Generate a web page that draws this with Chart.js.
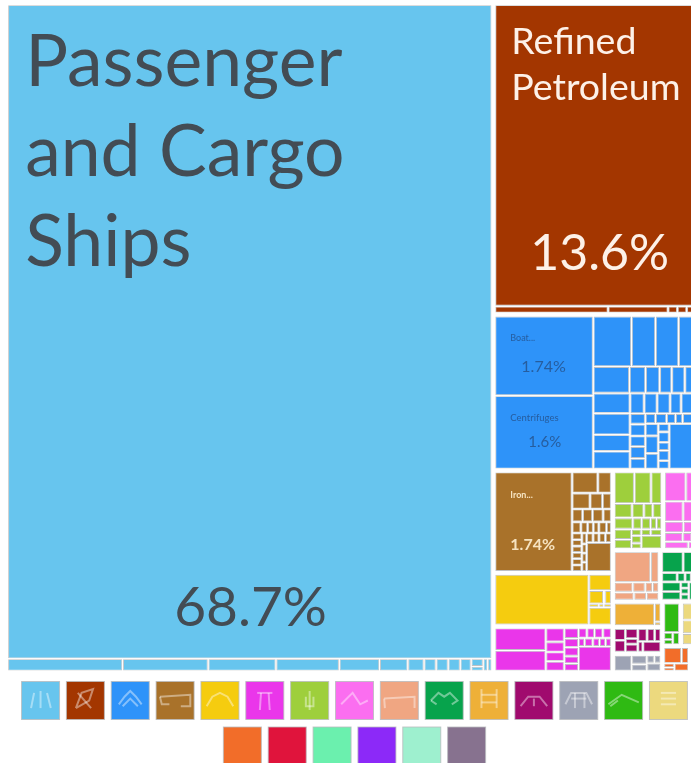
<!DOCTYPE html>
<html>
<head>
<meta charset="utf-8">
<title>Exports treemap</title>
<script src="https://cdn.jsdelivr.net/npm/chart.js@4/dist/chart.umd.js"></script>
<style>
html, body { margin: 0; background: #fff; overflow: hidden; }
canvas { display: block; }
</style>
</head>
<body>
<canvas id="exportsChart" width="711" height="763"></canvas>
<script>
// ============================
// DATA (share of exports, %)
// nested lists alternate between side by side and stacked
// ============================
const shipsValues = [68.7, [.305, .227, .18, .168, .107, .075, .043, .032, .032, .032, .029, [.02, .012], .012, .011]];
const petroleumValues = [13.6, [.17, .09, .014, .014, .02]];
const machineryValues = [
    [1.74, 1.6],
    [
        [.43, .27, .26, .24],
        [.213, .095, .083, .071, .077, .089],
        [
            [.165, .175, .135, .145],
            [
                [.064, .059, .059, .05, .086],
                [
                    [.036, .04, .036, .04, .036],
                    [
                        [.023, .025, .02, .016, .039],
                        [[.035, .05, .045], [.02, .025, .02, .025, .02], .31]
                    ]
                ]
            ]
        ]
    ]
];
const metalsValues = [1.74, [
    [.123, .064],
    [.065, .045, .032],
    [.031, .029, .031, .024],
    [.022, .017, .014, .014, .019, .012],
    [[.015, .014, .014, .014, .014, .014], [.012, .01, .01, .01], [[.014, .013, .014, .013], .16]]
]];
const mineralsValues = [1.11, [.085, [.045, .004, .02], [.008, .004, .006], .092]];
const textilesValues = [
    [.27, .247],
    [.06, .044, .04, .042],
    [.035, .03, .03, .025, .025],
    [[.02, .018, .02, .02], [.012, .016, .013, .012, .011], .19]
];
const vegetableValues = [
    [.15, .125, .08],
    [.06, .04, .03, .03],
    [.05, .024, .024, .016, .014],
    [[.042, .038], [.015, .017, .013], [[.014, .016], .065]]
];
const chemicalValues = [
    [.15, .1],
    [.09, .083],
    [.05, .045],
    [.04, .02, .018],
    [.04, .02]
];
const foodValues = [
    [.27, .06],
    [.045, .03, .018, .015],
    [.038, .024, .024]
];
const transportValues = [
    [.11, .087],
    [.035, .018, .014, .02],
    [[.045, .04], [.012, .012, .012], .05]
];
const plasticsValues = [.235, [.03, .006]];
const animalValues = [
    [.033, .034],
    [.032, .018, .026],
    [[.03, .025, .02], [.014, .05]]
];
const stoneValues = [.075, [.037, .028], [[.016, .014], .03]];
const instrumentsValues = [.125, [[.017, .013], .022]];
const paperValues = [.08, .065, .052];
const miscValues = [[.075, .03], [[.012, .01], .03]];
const leatherValues = [.03];
const furnitureValues = [.022];
const arsValues = [.006];
const weaponsValues = [.004];
const otherValues = [.003];

// name -> values, color, first split runs across or down
const groups = {
    ships: { values: shipsValues, color: '#67c5ee', across: false },
    petroleum: { values: petroleumValues, color: '#a33600', across: false },
    machinery: { values: machineryValues, color: '#2e93f9', across: true },
    metals: { values: metalsValues, color: '#a9722a', across: true },
    minerals: { values: mineralsValues, color: '#f5cc0f', across: true },
    textiles: { values: textilesValues, color: '#ea36ea', across: true },
    vegetable: { values: vegetableValues, color: '#9ecf3c', across: false },
    chemical: { values: chemicalValues, color: '#fb6ef0', across: false },
    food: { values: foodValues, color: '#f0a682', across: false },
    transport: { values: transportValues, color: '#07a34c', across: false },
    plastics: { values: plasticsValues, color: '#eeb038', across: true },
    animal: { values: animalValues, color: '#a00a6e', across: true },
    stone: { values: stoneValues, color: '#9da3b4', across: true },
    instruments: { values: instrumentsValues, color: '#2fba13', across: false },
    paper: { values: paperValues, color: '#ecd97e', across: false },
    misc: { values: miscValues, color: '#f26d29', across: false },
    leather: { values: leatherValues, color: '#e0143c', across: true },
    furniture: { values: furnitureValues, color: '#6bf0ae', across: true },
    ars: { values: arsValues, color: '#8c29f8', across: true },
    weapons: { values: weaponsValues, color: '#9ef0cf', across: true },
    other: { values: otherValues, color: '#87728f', across: true }
};

// group names placed side by side / stacked, same alternation
const groupTree = [
    ['ships'],
    ['petroleum', 'machinery', [
        ['metals', 'minerals', 'textiles'],
        [
            ['vegetable', 'chemical'],
            ['food', 'transport'],
            [
                ['plastics', 'animal', 'stone'],
                [
                    ['instruments', 'paper'],
                    ['misc', [['leather', 'furniture'], ['ars', 'weapons', 'other']]]
                ]
            ]
        ]
    ]]
];

const legendRows = [
    ['ships', 'petroleum', 'machinery', 'metals', 'minerals', 'textiles', 'vegetable', 'chemical',
     'food', 'transport', 'plastics', 'animal', 'stone', 'instruments', 'paper'],
    ['misc', 'leather', 'furniture', 'ars', 'weapons', 'other']
];

const cellLabels = [
    { group: 'ships', leaf: 0, name: ['Passenger', 'and Cargo', 'Ships'], share: '68.7%' },
    { group: 'petroleum', leaf: 0, name: ['Refined', 'Petroleum'], share: '13.6%' },
    { group: 'machinery', leaf: 0, name: ['Boat...'], share: '1.74%' },
    { group: 'machinery', leaf: 1, name: ['Centrifuges'], share: '1.6%' },
    { group: 'metals', leaf: 0, name: ['Iron...'], share: '1.74%' }
];

// ============================
// LAYOUT
// ============================
const FONT = 'Lato, "Noto Sans", sans-serif';
const FRAME = { left: 6.2, right: 701.5, top: 3.2, bottom: 672.5 };
const GROUP_GAP = 1.5;
const CELL_GAP = 0.45;

function total(node) {
    if (typeof node === 'string') return total(groups[node].values);
    if (Array.isArray(node)) return node.reduce((s, n) => s + total(n), 0);
    return node;
}

function split(node, box, across, onLeaf) {
    const sum = total(node);
    let pos = across ? box.x0 : box.y0;
    const span = across ? box.x1 - box.x0 : box.y1 - box.y0;
    node.forEach(child => {
        const size = span * total(child) / sum;
        const part = across
            ? { x0: pos, x1: pos + size, y0: box.y0, y1: box.y1 }
            : { x0: box.x0, x1: box.x1, y0: pos, y1: pos + size };
        pos += size;
        onLeaf(child, part, !across);
    });
}

function layoutCells() {
    const cells = [];
    const placeValues = (name, node, box, across, counter) => {
        if (Array.isArray(node)) {
            split(node, box, across, (child, part, next) => placeValues(name, child, part, next, counter));
        } else {
            cells.push({
                group: name,
                leaf: counter.n++,
                color: groups[name].color,
                x0: box.x0 + CELL_GAP, x1: box.x1 - CELL_GAP,
                y0: box.y0 + CELL_GAP, y1: box.y1 - CELL_GAP,
                x: (box.x0 + box.x1) / 2,
                y: (box.y0 + box.y1) / 2
            });
        }
    };
    const placeGroups = (node, box, across) => {
        if (typeof node === 'string') {
            const inner = {
                x0: box.x0 + GROUP_GAP, x1: box.x1 - GROUP_GAP,
                y0: box.y0 + GROUP_GAP, y1: box.y1 - GROUP_GAP
            };
            placeValues(node, groups[node].values, inner, groups[node].across, { n: 0 });
        } else {
            split(node, box, across, placeGroups);
        }
    };
    placeGroups(groupTree, { x0: FRAME.left, x1: FRAME.right, y0: FRAME.top, y1: FRAME.bottom }, true);
    return cells;
}

// ============================
// TREEMAP CONTROLLER
// ============================
class TreemapController extends Chart.DatasetController {
    update() {
        const meta = this._cachedMeta;
        const cells = this.getDataset().data;
        const xs = meta.xScale;
        const ys = meta.yScale;
        meta.data.forEach((rect, i) => {
            const c = cells[i];
            const left = xs.getPixelForValue(c.x0);
            const right = xs.getPixelForValue(c.x1);
            Object.assign(rect, {
                x: (left + right) / 2,
                width: right - left,
                y: ys.getPixelForValue(c.y0),
                base: ys.getPixelForValue(c.y1),
                height: ys.getPixelForValue(c.y1) - ys.getPixelForValue(c.y0),
                horizontal: false,
                inflateAmount: 0,
                borderSkipped: {},
                options: {
                    backgroundColor: c.color,
                    borderColor: 'rgba(175,178,180,.8)',
                    borderWidth: 0.9,
                    borderRadius: 0,
                    inflateAmount: 0
                }
            });
        });
    }
    draw() {
        this._cachedMeta.data.forEach(rect => rect.draw(this.chart.ctx));
    }
}
TreemapController.id = 'treemap';
TreemapController.defaults = { dataElementType: 'bar' };
Chart.register(TreemapController);

// ============================
// LABELS AND LEGEND
// ============================
const labelStyles = [
    { color: '#434c54', nameFont: 71.5, nameX: 17, nameY: 81, lineGap: 90, shareFont: 55, shareX: 166, shareY: 621 },
    { color: '#fdf1e8', nameFont: 37.5, nameX: 16, nameY: 49, lineGap: 46, shareFont: 50, shareX: 35, shareY: 265 },
    { color: 'rgba(35,70,120,.7)', nameFont: 9, nameX: 15, nameY: 25, lineGap: 10, shareFont: 16, shareX: 26, shareY: 56 },
    { color: 'rgba(35,70,120,.7)', nameFont: 9.5, nameX: 15, nameY: 25, lineGap: 10, shareFont: 15, shareX: 33, shareY: 51 },
    { color: '#f6e3c0', nameFont: 9, nameX: 15, nameY: 26, lineGap: 10, shareFont: 16, shareX: 15, shareY: 78, bold: true }
];

// faint white line icons on the legend squares, in a 0..1 box
const legendIcons = [
    [[[.33, .3], [.25, .7]], [[.5, .25], [.5, .7]], [[.67, .3], [.77, .7]]],
    [[[.25, .7], [.4, .3], [.7, .2], [.6, .5], [.25, .7]], [[.3, .3], [.65, .7]]],
    [[[.2, .6], [.35, .4], [.5, .25], [.65, .4], [.8, .6]], [[.3, .65], [.5, .45], [.7, .65]]],
    [[[.1, .4], [.9, .35], [.9, .65], [.65, .65]], [[.1, .4], [.15, .6], [.35, .6]]],
    [[[.15, .65], [.3, .4], [.5, .3], [.7, .4], [.85, .65]]],
    [[[.3, .3], [.7, .3]], [[.4, .3], [.37, .75]], [[.6, .3], [.63, .75]]],
    [[[.5, .25], [.5, .75]], [[.4, .4], [.4, .65], [.6, .65], [.6, .4]]],
    [[[.15, .6], [.45, .3], [.65, .6], [.85, .5]]],
    [[[.1, .45], [.9, .4], [.9, .7]], [[.1, .45], [.12, .7]]],
    [[[.15, .5], [.35, .3], [.5, .4], [.65, .3], [.85, .5], [.7, .6]], [[.15, .5], [.3, .6]]],
    [[[.3, .2], [.3, .7]], [[.7, .2], [.7, .7]], [[.3, .35], [.7, .35]], [[.3, .55], [.7, .55]]],
    [[[.15, .65], [.35, .4], [.65, .4], [.85, .65]], [[.5, .45], [.5, .65]]],
    [[[.15, .6], [.3, .3], [.7, .3], [.85, .6]], [[.3, .45], [.7, .45]], [[.4, .3], [.4, .7]], [[.65, .3], [.65, .7]]],
    [[[.1, .6], [.45, .35], [.9, .55]], [[.15, .65], [.35, .5]]],
    [[[.3, .3], [.7, .3]], [[.3, .45], [.7, .45]], [[.3, .6], [.7, .6]]]
];

const labelsAndLegend = {
    id: 'labelsAndLegend',
    afterDatasetsDraw(chart) {
        const ctx = chart.ctx;
        const xs = chart.scales.x;
        const ys = chart.scales.y;
        const cells = chart.data.datasets[0].data;
        ctx.save();
        ctx.textBaseline = 'alphabetic';
        cellLabels.forEach((label, i) => {
            const cell = cells.find(c => c.group === label.group && c.leaf === label.leaf);
            const st = labelStyles[i];
            const left = xs.getPixelForValue(cell.x0);
            const top = ys.getPixelForValue(cell.y0);
            ctx.fillStyle = st.color;
            ctx.font = (st.bold ? 'bold ' : '') + st.nameFont + 'px ' + FONT;
            label.name.forEach((line, k) => ctx.fillText(line, left + st.nameX, top + st.nameY + k * st.lineGap));
            ctx.font = (st.bold ? 'bold ' : '') + st.shareFont + 'px ' + FONT;
            ctx.fillText(label.share, left + st.shareX, top + st.shareY);
        });

        // legend squares
        const size = 38;
        const step = 44.85;
        legendRows.forEach((row, r) => {
            const y = r === 0 ? 681.5 : 727;
            const startX = (chart.width - row.length * step + step - size) / 2 - 1;
            row.forEach((name, k) => {
                const x = startX + k * step;
                ctx.fillStyle = groups[name].color;
                ctx.fillRect(x, y, size, size);
                ctx.strokeStyle = 'rgba(185,188,190,.8)';
                ctx.lineWidth = 1;
                ctx.strokeRect(x, y, size, size);
                if (r === 0 && legendIcons[k]) {
                    ctx.strokeStyle = 'rgba(255,255,255,.42)';
                    ctx.lineWidth = 2;
                    legendIcons[k].forEach(path => {
                        ctx.beginPath();
                        path.forEach((p, j) => {
                            const px = x + p[0] * size;
                            const py = y + p[1] * size;
                            if (j === 0) ctx.moveTo(px, py); else ctx.lineTo(px, py);
                        });
                        ctx.stroke();
                    });
                }
            });
        });
        ctx.restore();
    }
};

// ============================
// CHART
// ============================
new Chart(document.getElementById('exportsChart'), {
    type: 'treemap',
    data: { datasets: [{ data: layoutCells() }] },
    options: {
        responsive: false,
        animation: false,
        parsing: false,
        events: [],
        layout: { padding: 0 },
        plugins: { legend: { display: false }, tooltip: { enabled: false } },
        scales: {
            x: { type: 'linear', display: false, min: 0, max: 711 },
            y: { type: 'linear', display: false, min: 0, max: 763, reverse: true }
        }
    },
    plugins: [labelsAndLegend]
});
</script>
</body>
</html>
